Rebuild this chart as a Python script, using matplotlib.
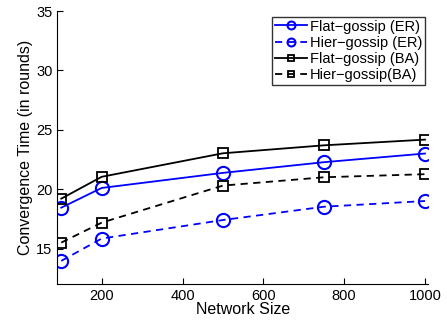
import matplotlib
matplotlib.use("Agg")
import matplotlib.pyplot as plt

plt.rcParams['font.family'] = ['Liberation Sans', 'DejaVu Sans']

sizes = [100, 200, 500, 750, 1000]
flat_er = [18.44, 20.1, 21.37, 22.27, 23.0]
hier_er = [13.96, 15.84, 17.4, 18.52, 19.0]
flat_ba = [19.2, 21.04, 23.02, 23.69, 24.17]
hier_ba = [15.5, 17.18, 20.3, 21.0, 21.26]
labels = ['Flat\u2212gossip (ER)', 'Hier\u2212gossip (ER)', 'Flat\u2212gossip (BA)', 'Hier\u2212gossip(BA)']

fig = plt.figure(figsize=(4.47, 3.24), dpi=100)
ax = fig.add_axes([0.128, 0.123, 0.83, 0.843])

ax.plot(sizes, flat_er, color='#0000ff', ls='-', lw=1.3, marker='o', ms=9.5,
        mfc='none', mew=1.5, label=labels[0])
ax.plot(sizes, hier_er, color='#0000ff', ls=(0, (4, 3)), lw=1.3, marker='o', ms=9.5,
        mfc='none', mew=1.5, label=labels[1])
ax.plot(sizes, flat_ba, color='black', ls='-', lw=1.3, marker='s', ms=6.5,
        mfc='none', mew=1.3, label=labels[2])
ax.plot(sizes, hier_ba, color='black', ls=(0, (4, 3)), lw=1.3, marker='s', ms=6.5,
        mfc='none', mew=1.3, label=labels[3])

ax.set_xlim(90, 1008)
ax.set_ylim(12, 35)
ax.set_xticks([200, 400, 600, 800, 1000])
ax.set_yticks([15, 20, 25, 30, 35])
ax.tick_params(direction='in', labelsize=10.5, length=4, width=0.8)
for s in ['top', 'right']:
    ax.spines[s].set_visible(False)
ax.set_xlabel('Network Size', fontsize=11.5, labelpad=-1)
ax.set_ylabel('Convergence Time (in rounds)', fontsize=11.5, labelpad=2)

leg = ax.legend(loc='upper right', bbox_to_anchor=(1.0, 0.99), fontsize=10.5,
                frameon=True, fancybox=False, edgecolor='black', borderpad=0.2,
                handlelength=2.2, handletextpad=0.2, labelspacing=0.15,
                borderaxespad=0.2, markerscale=0.6)
leg.get_frame().set_linewidth(1.0)

fig.savefig('out.png', dpi=100)
